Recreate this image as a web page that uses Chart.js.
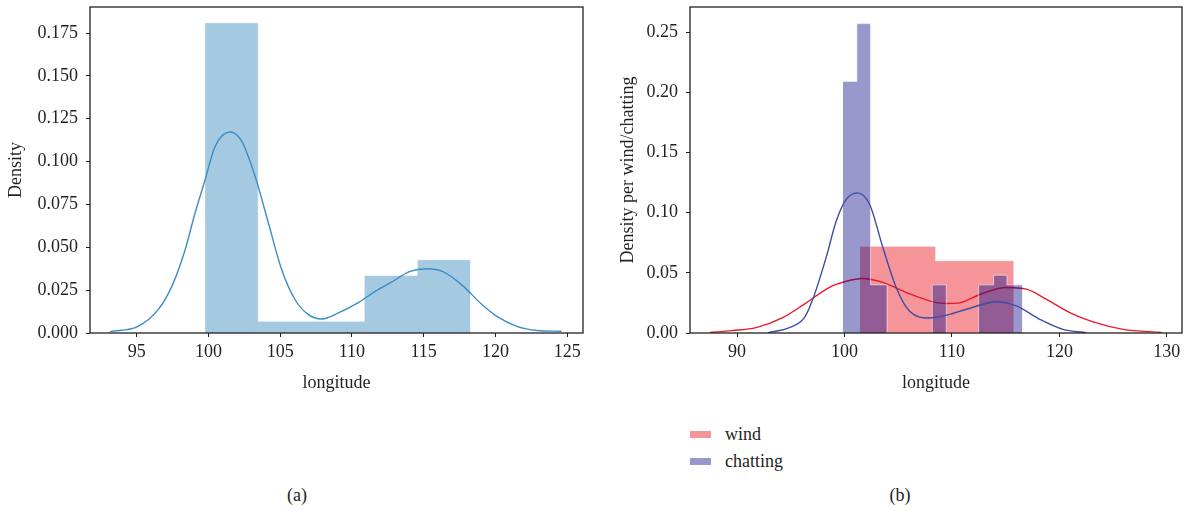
<!DOCTYPE html>
<html>
<head>
<meta charset="utf-8">
<script src="https://cdn.jsdelivr.net/npm/chart.js@4.4.0/dist/chart.umd.min.js"></script>
<style>
  body { margin: 0; background: #fff; }
  #page { position: relative; width: 1191px; height: 514px; font-family: "Liberation Serif", serif; color: #231f20; overflow: hidden; }
  canvas { position: absolute; top: 0; }
  #chartA { left: 0; }
  #chartB { left: 600px; }
  .legend { position: absolute; left: 690px; top: 421px; font-size: 18px; }
  .legend div { position: relative; height: 27px; line-height: 27px; padding-left: 35px; }
  .legend .sw { position: absolute; left: 0; top: 10px; width: 21px; height: 7px; }
  .panel { position: absolute; top: 485px; width: 60px; margin-left: -30px; text-align: center; font-size: 18px; line-height: 21px; }
</style>
</head>
<body>
<div id="page">
  <canvas id="chartA" width="600" height="400"></canvas>
  <canvas id="chartB" width="591" height="400"></canvas>
  <div class="legend">
    <div><span class="sw" style="background: rgba(232,20,30,0.45)"></span>wind</div>
    <div><span class="sw" style="background: rgba(10,10,135,0.42)"></span>chatting</div>
  </div>
  <div class="panel" style="left: 297px">(a)</div>
  <div class="panel" style="left: 900px">(b)</div>
</div>
<script>
// (a) histogram of longitude, 5 bins
const longEdges = [99.77, 103.47, 107.17, 110.86, 114.56, 118.26];
const longHeights = [0.181, 0.0068, 0.0068, 0.0336, 0.0428];
// (a) kde curve
const longKdeX = [93.15, 95.1, 96.5, 97.45, 98.38, 99.07, 99.77, 100.47, 101.51, 102.33, 103.25, 104.18, 105.11, 106.04, 106.97, 107.9, 109.06, 110.5, 111.62, 112.66, 114.06, 115.22, 116.38, 117.77, 118.94, 120.1, 121.5, 122.89, 124.6];
const longKdeY = [0.0008, 0.0039, 0.0136, 0.0272, 0.0486, 0.07, 0.0894, 0.1089, 0.1173, 0.1118, 0.0914, 0.0642, 0.0369, 0.0194, 0.0107, 0.0082, 0.0117, 0.018, 0.0243, 0.0292, 0.0359, 0.0375, 0.0356, 0.0272, 0.0175, 0.0097, 0.0039, 0.0015, 0.001];

// (b) wind / chatting histograms
const windEdges = [101.43, 108.48, 115.75];
const windHeights = [0.072, 0.060];
const chatEdges = [99.84, 101.15, 102.42, 103.96, 108.17, 109.47, 112.48, 113.88, 115.12, 116.55];
const chatHeights = [0.209, 0.257, 0.040, 0, 0.040, 0, 0.040, 0.048, 0.040];
// (b) kde curves
const windKdeX = [87.48, 89.5, 91.77, 94.25, 96.43, 98.6, 100.16, 101.7, 103.57, 105.75, 107.9, 109.5, 110.72, 112.58, 115.07, 116.93, 118.8, 120.97, 123.14, 125.94, 129.5];
const windKdeY = [0.0005, 0.002, 0.0045, 0.0128, 0.025, 0.038, 0.043, 0.0453, 0.042, 0.0336, 0.0267, 0.0245, 0.025, 0.032, 0.0378, 0.0364, 0.028, 0.017, 0.0092, 0.003, 0.0005];
const chatKdeX = [92.9, 94.87, 96.27, 97.05, 98.3, 99.23, 100.16, 101.18, 102.33, 103.57, 104.8, 106.06, 107.9, 108.85, 109.8, 111.34, 114.14, 116.0, 118.17, 120.34, 122.5];
const chatKdeY = [0.0003, 0.0045, 0.0128, 0.028, 0.063, 0.093, 0.111, 0.1164, 0.107, 0.071, 0.038, 0.018, 0.0125, 0.0136, 0.0155, 0.0197, 0.026, 0.0225, 0.0114, 0.003, 0.0003];

const ink = '#231f20';
const serif = 'Liberation Serif';

// histogram as a filled stepped line
function stepPoints(edges, heights) {
  const pts = heights.map((h, i) => ({ x: edges[i], y: h }));
  pts.push({ x: edges[edges.length - 1], y: heights[heights.length - 1] });
  return pts;
}
function curvePoints(xs, ys) {
  return xs.map((x, i) => ({ x: x, y: ys[i] }));
}

function histSet(label, edges, heights, fill, order) {
  return {
    label: label,
    data: stepPoints(edges, heights),
    stepped: 'before',
    fill: 'origin',
    backgroundColor: fill,
    borderColor: 'rgba(255,255,255,0.55)',
    borderWidth: 1,
    pointRadius: 0,
    order: order
  };
}
function kdeSet(label, xs, ys, color, order) {
  return {
    label: label,
    data: curvePoints(xs, ys),
    borderColor: color,
    borderWidth: 1.4,
    fill: false,
    pointRadius: 0,
    cubicInterpolationMode: 'monotone',
    order: order
  };
}

const frame = {
  id: 'frame',
  afterDraw(chart) {
    const { ctx, chartArea: a } = chart;
    ctx.save();
    ctx.strokeStyle = ink;
    ctx.lineWidth = 1.3;
    ctx.strokeRect(a.left, a.top, a.right - a.left, a.bottom - a.top);
    ctx.restore();
  }
};

// fixed axis box sizes, no extra room for overhanging labels
function fixBox(s, size) {
  if (s.isHorizontal()) s.height = size; else s.width = size;
  s.paddingTop = 0;
  s.paddingBottom = 0;
  s.paddingLeft = 0;
  s.paddingRight = 0;
}

function makeChart(id, datasets, xr, yr, ystep, digits, ytitle, ytitlePad, rightPad) {
  return new Chart(document.getElementById(id), {
    type: 'line',
    data: { datasets: datasets },
    plugins: [frame],
    options: {
      responsive: false,
      animation: false,
      layout: { padding: { top: 7, right: rightPad, left: 0, bottom: 0 } },
      plugins: { legend: { display: false }, tooltip: { enabled: false } },
      scales: {
        x: {
          type: 'linear',
          min: xr[0],
          max: xr[1],
          afterFit: s => fixBox(s, 67),
          border: { display: false },
          grid: { drawOnChartArea: false, drawTicks: true, tickLength: 4, color: ink },
          ticks: {
            stepSize: xr[2],
            includeBounds: false,
            padding: 4,
            color: ink,
            font: { family: serif, size: 18 },
            callback: v => v.toFixed(0)
          },
          title: { display: true, text: 'longitude', color: ink, font: { family: serif, size: 18 }, padding: { top: 0, bottom: 6 } }
        },
        y: {
          min: 0,
          max: yr,
          afterFit: s => fixBox(s, 90),
          border: { display: false },
          grid: { drawOnChartArea: false, drawTicks: true, tickLength: 4, color: ink },
          ticks: {
            stepSize: ystep,
            includeBounds: false,
            padding: 8,
            color: ink,
            font: { family: serif, size: 18 },
            callback: v => v.toFixed(digits)
          },
          title: { display: true, text: ytitle, color: ink, font: { family: serif, size: 18 }, padding: { top: ytitlePad, bottom: 0 } }
        }
      }
    }
  });
}

makeChart('chartA', [
  histSet('longitude', longEdges, longHeights, 'rgba(31,119,180,0.4)', 2),
  kdeSet('kde', longKdeX, longKdeY, '#3a8ec6', 1)
], [91.75, 126.1, 5], 0.1902, 0.025, 3, 'Density', 5, 17);

makeChart('chartB', [
  histSet('wind', windEdges, windHeights, 'rgba(232,20,30,0.45)', 4),
  kdeSet('wind kde', windKdeX, windKdeY, '#e8192c', 3),
  histSet('chatting', chatEdges, chatHeights, 'rgba(10,10,135,0.42)', 2),
  kdeSet('chatting kde', chatKdeX, chatKdeY, '#3a4ea6', 1)
], [85.62, 131.41, 10], 0.2708, 0.05, 2, 'Density per wind/chatting', 17, 9);
</script>
</body>
</html>
